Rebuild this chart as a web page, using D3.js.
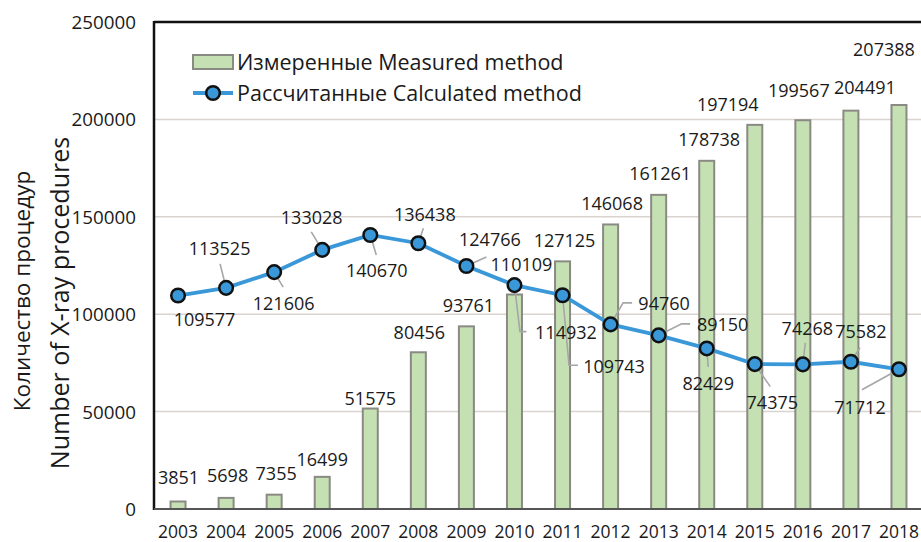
<!DOCTYPE html>
<html>
<head>
<meta charset="utf-8">
<script src="https://cdn.jsdelivr.net/npm/d3@7/dist/d3.min.js"></script>
<style>
  html, body { margin: 0; padding: 0; background: #fff; }
  svg { display: block; }
  text { font-family: "Open Sans", sans-serif; fill: #1a1a1a; }
</style>
</head>
<body>
<svg id="chart" width="921" height="542"></svg>
<script>
// Years on the category axis
const years = ["2003","2004","2005","2006","2007","2008","2009","2010",
               "2011","2012","2013","2014","2015","2016","2017","2018"];
// Measured method (bars)
const measured = [3851, 5698, 7355, 16499, 51575, 80456, 93761, 110109,
                  127125, 146068, 161261, 178738, 197194, 199567, 204491, 207388];
// Calculated method (line with markers)
const calculated = [109577, 113525, 121606, 133028, 140670, 136438, 124766, 114932,
                    109743, 94760, 89150, 82429, 74375, 74268, 75582, 71712];
// Value axis ticks
const yTicks = [0, 50000, 100000, 150000, 200000, 250000];

const legendLabels = ["Измеренные Measured method", "Рассчитанные Calculated method"];
const axisTitle = ["Количество процедур", "Number of X-ray procedures"];

// Label placement (pixel offsets of the label centre from the bar top)
const barLabelOffset = [[0.5,-24],[1.5,-22],[2,-21],[0,-17],[0,-10],[1,-20],[2,-21],[7,-30],
                        [2,-21],[1.5,-21],[1.5,-21],[2.5,-21],[-27,-20.5],[-4,-30],[14,-23],[-15,-55.5]];
// Label placement for line points: centre offset and leader polyline (relative to point)
const lineLabelLayout = [
  { d: [26.5, 24.5], leader: null },
  { d: [-6.5, -39.5], leader: [[-6,-24],[0,0]] },
  { d: [9.5, 31.5], leader: [[9,15],[0,0]] },
  { d: [-10.5, -32], leader: [[-11,-18],[0,0]] },
  { d: [6.5, 35.5], leader: [[6,20],[0,0]] },
  { d: [6.5, -28.5], leader: [[5,-15],[0,0]] },
  { d: [23.5, -26], leader: [[20,-9],[0,0]] },
  { d: [51.5, 47.5], leader: [[12,46.5],[5.5,46.5],[0,0]] },
  { d: [51.5, 71.5], leader: [[15.5,70],[6.5,70],[0,0]] },
  { d: [53.5, -21], leader: [[21.5,-21.5],[12.5,-21.5],[0,0]] },
  { d: [64, -10.5], leader: [[31.5,-11.5],[23,-11.5],[0,0]] },
  { d: [1.5, 35], leader: [[1.5,18.5],[0,0]] },
  { d: [17.5, 38.5], leader: [[15.5,22.5],[0,0]] },
  { d: [4.5, -36], leader: [[2.5,-21.5],[0,0]] },
  { d: [10, -30], leader: [[9,-14],[0,0]] },
  { d: [-39, 38], leader: [[-37,20.5],[0,0]] }
];

const margin = { left: 154, top: 22, right: 923, bottom: 509 };
const svg = d3.select("#chart");

const x = d3.scaleBand().domain(years).range([margin.left, margin.right]).paddingInner(0).paddingOuter(0);
const y = d3.scaleLinear().domain([0, 250000]).range([margin.bottom, margin.top]);
const barW = 15;
const cx = d => x(d) + x.bandwidth() / 2;

// Gridlines
svg.append("g")
  .selectAll("line")
  .data(yTicks.filter(t => t > 0 && t < 250000))
  .join("line")
  .attr("x1", margin.left).attr("x2", 921)
  .attr("y1", d => y(d)).attr("y2", d => y(d))
  .attr("stroke", "#d9d4d0").attr("stroke-width", 1.5);

// Y axis tick labels
const yAxis = d3.axisLeft(y).tickValues(yTicks).tickSize(0).tickPadding(18).tickFormat(d3.format("d"));
const gy = svg.append("g").attr("transform", `translate(${margin.left},0)`).call(yAxis);
gy.select(".domain").remove();
gy.selectAll("text").attr("font-size", 18.8).attr("font-family", "Open Sans").attr("fill", "#1a1a1a").attr("dy", "0.35em");

// X axis labels
const xAxis = d3.axisBottom(x).tickSize(0).tickPadding(0);
const gx = svg.append("g").attr("transform", `translate(0,${margin.bottom})`).call(xAxis);
gx.select(".domain").remove();
gx.selectAll("text").attr("font-size", 17.5).attr("font-family", "Open Sans").attr("fill", "#1a1a1a")
  .attr("y", 23).attr("dy", "0.35em");

// Bars
svg.append("g")
  .selectAll("rect")
  .data(measured)
  .join("rect")
  .attr("x", (d, i) => cx(years[i]) - barW / 2)
  .attr("y", d => y(d))
  .attr("width", barW)
  .attr("height", d => y(0) - y(d))
  .attr("fill", "#c5e0b3")
  .attr("stroke", "#8a8a85")
  .attr("stroke-width", 2);

// Frame: top border, left axis, baseline
svg.append("line").attr("x1", margin.left).attr("x2", 921).attr("y1", margin.top).attr("y2", margin.top)
  .attr("stroke", "#111").attr("stroke-width", 2.5);
svg.append("line").attr("x1", margin.left).attr("x2", margin.left).attr("y1", margin.top - 1).attr("y2", margin.bottom + 1)
  .attr("stroke", "#111").attr("stroke-width", 2.5);
svg.append("line").attr("x1", margin.left).attr("x2", 921).attr("y1", margin.bottom).attr("y2", margin.bottom)
  .attr("stroke", "#555").attr("stroke-width", 2);

// Bar value labels
svg.append("g")
  .selectAll("text")
  .data(measured)
  .join("text")
  .attr("x", (d, i) => cx(years[i]) + barLabelOffset[i][0])
  .attr("y", (d, i) => y(d) + barLabelOffset[i][1])
  .attr("dy", "0.35em")
  .attr("text-anchor", "middle")
  .attr("font-size", 18)
  .text(d => d);

// Leader lines for line labels
const pts = calculated.map((v, i) => [cx(years[i]), y(v)]);
svg.append("g")
  .selectAll("path")
  .data(lineLabelLayout.filter(l => l.leader).map(l => ({ l, i: lineLabelLayout.indexOf(l) })))
  .join("path")
  .attr("d", o => d3.line()(o.l.leader.map(p => [pts[o.i][0] + p[0], pts[o.i][1] + p[1]])))
  .attr("fill", "none")
  .attr("stroke", "#a6a6a6")
  .attr("stroke-width", 1.6);

// Calculated line
svg.append("path")
  .datum(calculated)
  .attr("d", d3.line().x((d, i) => cx(years[i])).y(d => y(d)))
  .attr("fill", "none")
  .attr("stroke", "#3a98d8")
  .attr("stroke-width", 3.8);

// Markers
svg.append("g")
  .selectAll("circle")
  .data(calculated)
  .join("circle")
  .attr("cx", (d, i) => cx(years[i]))
  .attr("cy", d => y(d))
  .attr("r", 6.8)
  .attr("fill", "#3a98d8")
  .attr("stroke", "#111")
  .attr("stroke-width", 2.5);

// Line value labels
svg.append("g")
  .selectAll("text")
  .data(calculated)
  .join("text")
  .attr("x", (d, i) => pts[i][0] + lineLabelLayout[i].d[0])
  .attr("y", (d, i) => pts[i][1] + lineLabelLayout[i].d[1])
  .attr("dy", "0.35em")
  .attr("text-anchor", "middle")
  .attr("font-size", 18)
  .text(d => d);

// Legend
const lg = svg.append("g");
lg.append("rect").attr("x", 193).attr("y", 55).attr("width", 40).attr("height", 14)
  .attr("fill", "#c5e0b3").attr("stroke", "#8a8a85").attr("stroke-width", 2);
lg.append("line").attr("x1", 193).attr("x2", 233).attr("y1", 93).attr("y2", 93)
  .attr("stroke", "#3a98d8").attr("stroke-width", 3.8);
lg.append("circle").attr("cx", 213).attr("cy", 93).attr("r", 6.8)
  .attr("fill", "#3a98d8").attr("stroke", "#111").attr("stroke-width", 2.5);
lg.selectAll("text.lab")
  .data(legendLabels)
  .join("text")
  .attr("class", "lab")
  .attr("x", 237)
  .attr("y", (d, i) => 62 + i * 31)
  .attr("dy", "0.35em")
  .attr("font-size", 21.5)
  .text(d => d);

// Y axis title (two lines, rotated)
const titleSizes = [22.5, 25];
const titleCentres = [[22, 291], [60, 303]];
svg.append("g")
  .selectAll("text")
  .data(axisTitle)
  .join("text")
  .attr("transform", (d, i) => `translate(${titleCentres[i][0]},${titleCentres[i][1]}) rotate(-90)`)
  .attr("text-anchor", "middle")
  .attr("dy", "0.35em")
  .attr("font-size", (d, i) => titleSizes[i])
  .text(d => d);
</script>
</body>
</html>
